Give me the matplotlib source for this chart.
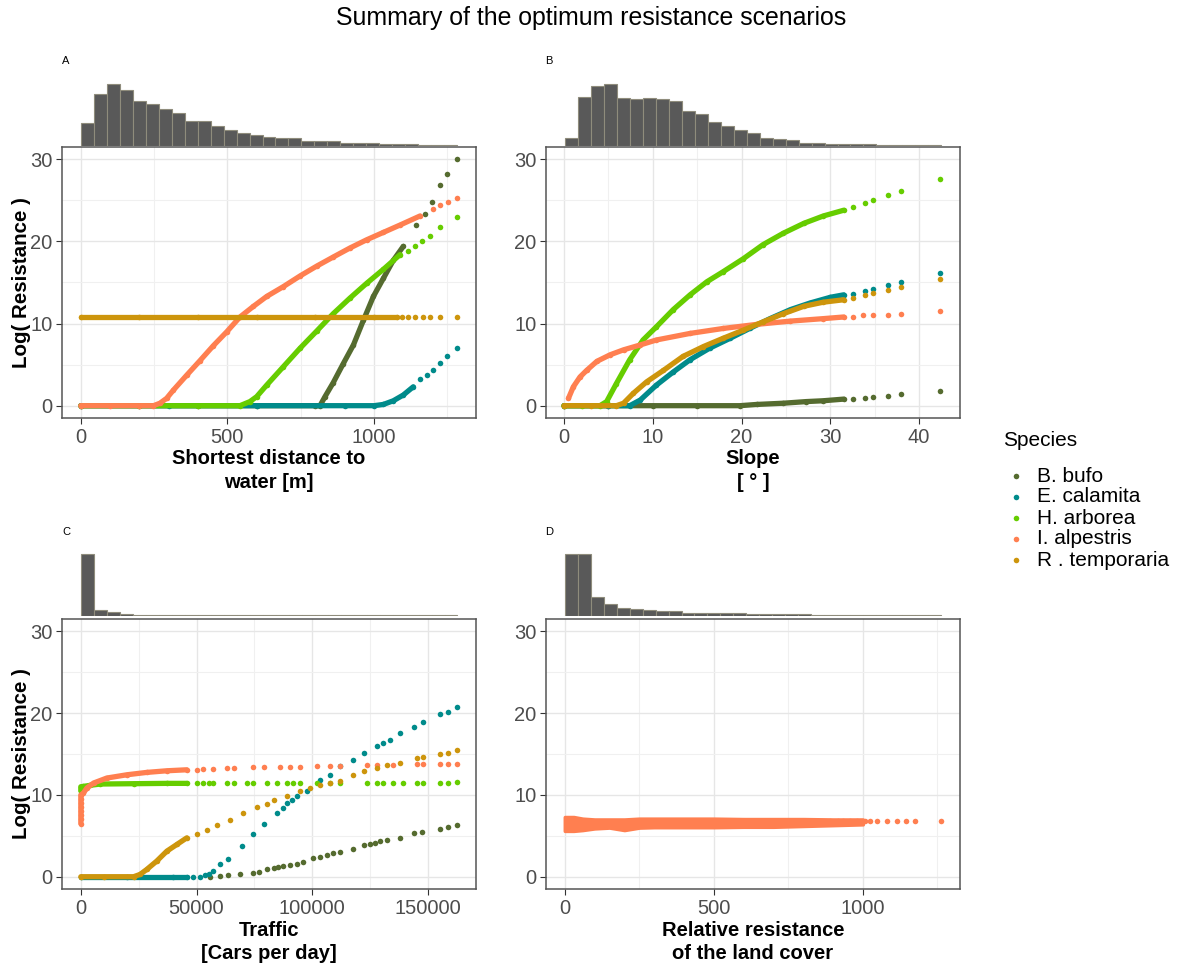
import numpy as np
import matplotlib.pyplot as plt
from matplotlib.lines import Line2D

plt.rcParams['font.family'] = ['Liberation Sans', 'DejaVu Sans']

species = ["B. bufo", "E. calamita", "H. arborea", "I. alpestris", "R . temporaria"]
colors = ["#556B2F", "#008B8B", "#66CD00", "#FF7F50", "#CD950C"]

# ---- panel A: shortest distance to water
a_bufo_x = [0, 200, 400, 600, 800, 816, 833, 861, 895, 930, 964, 998, 1032, 1066, 1100,
            1145, 1174, 1197, 1225, 1250, 1284]
a_bufo_y = [0, 0, 0, 0, 0, 0, 1.1, 2.8, 5.1, 7.4, 10.4, 13.3, 15.5, 17.7, 19.4,
            22.0, 23.3, 24.85, 26.9, 28.2, 30.0]
a_cala_x = [0, 300, 600, 900, 1000, 1032, 1066, 1100, 1134, 1157, 1180, 1202, 1225, 1250, 1284]
a_cala_y = [0, 0, 0, 0, 0, 0.15, 0.6, 1.3, 2.3, 3.3, 3.7, 4.3, 5.2, 6.0, 7.0]
a_arbo_x = [0, 200, 400, 543, 577, 600, 634, 691, 748, 805, 861, 918, 975, 1032, 1089,
            1117, 1140, 1163, 1191, 1225, 1284]
a_arbo_y = [0, 0, 0, 0, 0.5, 1.1, 2.5, 4.75, 7.0, 9.1, 11.2, 13.1, 14.9, 16.6, 18.4,
            18.8, 19.4, 20.0, 20.7, 21.7, 23.0]
a_alpe_x = [0, 100, 200, 248, 270, 293, 316, 361, 407, 452, 498, 543, 589, 634, 691, 748,
            805, 861, 918, 975, 1032, 1089, 1157, 1202, 1225, 1253, 1284]
a_alpe_y = [0, 0, 0, 0, 0.3, 0.9, 1.9, 3.7, 5.5, 7.3, 9.0, 10.8, 12.1, 13.3, 14.5, 15.8,
            17.0, 18.1, 19.2, 20.2, 21.1, 22.0, 23.1, 24.0, 24.4, 24.8, 25.3]
a_temp_x = [0, 200, 400, 600, 800, 1000, 1077, 1094, 1117, 1140, 1168, 1191, 1225, 1284]
a_temp_y = [10.84] * 14
a_dense = [1110, 1134, 1100, 1157, 1080]
a_hist = [67, 157, 187, 169, 135, 125, 110, 97, 74, 74, 59, 48, 38, 33, 27, 23, 23,
          13, 13, 13, 8, 8, 8, 5, 5, 5, 2, 2, 2]

# ---- panel B: slope
b_bufo_x = [0, 5, 10, 15, 19.8, 21.7, 24.7, 27.3, 29.2, 31.5, 32.6, 33.9, 34.8, 36.5, 37.9, 42.4]
b_bufo_y = [0, 0, 0, 0, 0, 0.15, 0.3, 0.5, 0.6, 0.8, 0.8, 0.9, 1.0, 1.2, 1.4, 1.8]
b_cala_x = [0, 5, 7.4, 8.6, 10.4, 12.3, 14.2, 16.4, 18.7, 20.9, 23.2, 25.5, 27.7, 30.0, 31.5,
            32.6, 33.9, 34.8, 36.5, 37.9, 42.4]
b_cala_y = [0, 0, 0, 0.7, 2.5, 4.1, 5.6, 7.0, 8.2, 9.4, 10.6, 11.7, 12.5, 13.2, 13.5,
            13.6, 14.0, 14.2, 14.7, 15.1, 16.1]
b_arbo_x = [0, 2, 4.05, 4.8, 5.9, 7.4, 8.9, 10.4, 12.3, 14.2, 16.1, 17.9, 20.2, 22.4, 24.7,
            27.0, 29.2, 31.5, 32.6, 33.9, 34.8, 36.5, 37.9, 42.4]
b_arbo_y = [0, 0, 0, 0.5, 2.7, 5.6, 8.0, 9.6, 11.7, 13.5, 15.1, 16.3, 17.9, 19.6, 21.0,
            22.2, 23.1, 23.8, 24.2, 24.7, 25.05, 25.7, 26.2, 27.6]
b_alpe_x = [0.5, 1.05, 1.8, 2.55, 3.7, 5.2, 6.7, 8.6, 10.4, 14.2, 17.9, 21.7, 25.5, 29.2, 31.5,
            32.6, 33.7, 34.8, 36.5, 37.9, 42.4]
b_alpe_y = [0.9, 2.3, 3.5, 4.3, 5.4, 6.2, 6.8, 7.4, 8.0, 8.8, 9.4, 9.9, 10.3, 10.6, 10.8,
            10.8, 11.0, 11.0, 11.1, 11.2, 11.5]
b_temp_x = [0, 3, 5.9, 6.7, 7.8, 9.3, 11.2, 13.4, 15.7, 17.9, 20.2, 22.4, 24.7, 27.0, 29.2,
            31.5, 32.6, 33.9, 34.8, 36.5, 37.9, 42.4]
b_temp_y = [0, 0, 0, 0.3, 1.5, 2.9, 4.3, 6.0, 7.2, 8.2, 9.2, 10.2, 11.2, 12.1, 12.6,
            12.9, 13.1, 13.5, 13.7, 14.1, 14.5, 15.4]
b_dense = [31.6, 31.6, 31.6, 31.6, 31.6]
b_hist = [24, 147, 179, 187, 144, 140, 144, 140, 136, 103, 96, 71, 60, 46, 38, 24, 20,
          16, 9, 9, 5, 5, 5, 5, 2, 2, 2, 2, 2]

# ---- panel C: traffic
c_bufo_x = [55900, 60200, 63800, 68900, 74600, 76800, 80400, 83300, 85400, 87600, 90500,
            93300, 96200, 100500, 103400, 106300, 109200, 112100, 117800, 122200, 125000,
            127200, 129400, 132200, 138000, 143800, 147400, 155300, 158900, 162800]
c_bufo_y = [0, 0.08, 0.16, 0.28, 0.49, 0.61, 0.89, 1.10, 1.18, 1.30, 1.42, 1.58, 1.83,
            2.23, 2.40, 2.64, 2.84, 3.05, 3.45, 3.86, 4.02, 4.14, 4.34, 4.43, 4.75, 5.36,
            5.48, 5.89, 6.05, 6.29]
c_cala_x = [0, 20000, 40000, 45800, 48700, 51600, 53700, 55200, 57300, 60200, 63800, 69600,
            74600, 79000, 84700, 87600, 89000, 91200, 93300, 97700, 103400, 107700, 112100,
            117800, 122200, 127900, 130800, 133700, 138000, 143800, 148100, 155300, 158900,
            162800]
c_cala_y = [0, 0, 0, 0, 0, 0, 0.16, 0.28, 0.69, 1.50, 2.11, 3.74, 5.24, 6.46, 7.80, 8.42,
            9.01, 9.42, 9.82, 10.43, 11.85, 12.46, 13.48, 14.29, 15.10, 16.00, 16.32, 16.73,
            17.54, 18.35, 18.88, 19.89, 20.18, 20.71]
c_arbo_x = [0, 0, 1150, 4000, 8400, 22800, 37200, 45800, 50100, 53000, 55200, 57300, 63100,
            66000, 71700, 74600, 80400, 84700, 89000, 91900, 94800, 102000, 107700, 112100,
            123600, 127900, 130800, 135100, 139400, 145200, 148100, 155300, 158900, 162800]
c_arbo_y = [10.5, 11.0, 11.04, 11.17, 11.33, 11.37, 11.41, 11.41] + [11.45] * 25 + [11.57]
c_alpe_x = [0, 0, 0, 0, 0, 0, 0, 0, 1150, 2600, 5500, 11200, 19900, 28500, 37200, 45800,
            50100, 53000, 57300, 63100, 66000, 74600, 79000, 86100, 90500, 94800, 102000,
            107700, 112100, 123600, 127900, 135100, 145200, 148100, 155300, 158900, 162800]
c_alpe_y = [6.5, 7.0, 7.5, 8.0, 8.5, 9.0, 9.5, 10.0, 10.23, 10.84, 11.45, 12.06, 12.46,
            12.75, 12.95, 13.07, 13.07, 13.15, 13.2, 13.28, 13.28, 13.36, 13.36, 13.4, 13.44,
            13.44, 13.48, 13.48, 13.48, 13.6, 13.6, 13.68, 13.76, 13.76, 13.76, 13.76, 13.76]
c_temp_x = [0, 10000, 22800, 25600, 28500, 32800, 37200, 41500, 45800, 50100, 54500, 58800,
            64500, 70300, 76000, 80400, 83300, 89000, 94800, 99100, 103400, 107700, 112100,
            117800, 122200, 127900, 132200, 138000, 145200, 148100, 155300, 158900, 162800]
c_temp_y = [0, 0, 0, 0.28, 0.89, 1.91, 3.13, 3.94, 4.75, 5.24, 5.77, 6.37, 6.98, 7.80,
            8.49, 8.89, 9.42, 9.91, 10.43, 10.84, 11.17, 11.45, 11.73, 12.46, 12.95, 13.28,
            13.68, 13.89, 14.49, 14.62, 14.98, 15.18, 15.43]
c_dense = [46000, 46000, 46000, 46000, 46000]
c_hist = [184, 17, 10, 5] + [1.5] * 25

# ---- panel D: relative resistance of the land cover (I. alpestris only)
d_band_x = [0, 30, 60, 100, 150, 200, 250, 300, 400, 500, 600, 700, 800, 900, 1000]
d_band_lo = [5.6, 5.6, 5.7, 5.9, 6.0, 5.7, 6.0, 6.05, 6.05, 6.05, 6.1, 6.1, 6.2, 6.3, 6.4]
d_band_hi = [7.3, 7.3, 7.1, 7.0, 7.0, 7.0, 7.1, 7.1, 7.1, 7.1, 7.05, 7.05, 7.05, 7.0, 7.0]
d_tail_x = [890, 918, 935, 957, 980, 1008, 1025, 1047, 1081, 1114, 1145, 1176, 1262]
d_tail_y = [6.8, 6.8, 6.8, 6.8, 6.82, 6.82, 6.82, 6.82, 6.84, 6.84, 6.85, 6.85, 6.86]
d_hist = [184, 184, 56, 34, 24, 19, 16, 13, 13, 8, 8, 8, 8, 8, 6, 6, 6, 6, 6,
          2, 2, 2, 2, 2, 2, 2, 2, 2, 2]

W, H = 1180, 964
fig = plt.figure(figsize=(W / 100, H / 100), dpi=100)


def box(l, t, r, b):
    return [l / W, 1 - b / H, (r - l) / W, (b - t) / H]


def panel(rect, hrect, xlim, major, minor, xlabel, ylabel, hist, hrange, letter, lpos):
    ax = fig.add_axes(rect)
    ax.set_xlim(xlim)
    ax.set_ylim(-1.5, 31.5)
    ax.set_xticks(major)
    ax.set_xticks(minor, minor=True)
    ax.set_yticks([0, 10, 20, 30])
    ax.set_yticks([5, 15, 25], minor=True)
    ax.grid(which='major', color='#e6e6e6', lw=1.0)
    ax.grid(which='minor', color='#f0f0f0', lw=0.8)
    ax.set_axisbelow(True)
    ax.tick_params(which='major', labelsize=14.5, labelcolor='#4d4d4d', color='#333333',
                   length=4, width=0.8, pad=3)
    ax.tick_params(which='minor', length=0)
    for s in ax.spines.values():
        s.set_color('#555555')
        s.set_linewidth(1.1)
    ax.set_xlabel(xlabel, fontsize=14.5, fontweight='bold', linespacing=1.3, labelpad=2)
    if ylabel:
        ax.set_ylabel(ylabel, fontsize=14.8, fontweight='bold', va='center')
        ax.yaxis.set_label_coords(-0.097, 0.5)

    hx = fig.add_axes(hrect)
    edges = np.linspace(hrange[0], hrange[1], len(hist) + 1)
    hx.bar(edges[:-1], hist, width=np.diff(edges), align='edge', color='#595959',
           edgecolor='#8f8c7c', lw=0.8)
    hx.set_xlim(xlim)
    hx.set_ylim(0, max(hist) * 1.05)
    hx.axis('off')
    fig.text(lpos[0] / W, 1 - lpos[1] / H, letter, fontsize=8, ha='left', va='center')
    return ax


def draw(ax, xs, ys, dense):
    for x, y, c, lim in zip(xs, ys, colors, dense):
        x = np.asarray(x, float)
        y = np.asarray(y, float)
        m = x <= lim
        ax.plot(x[m], y[m], color=c, lw=3.8, solid_capstyle='round', solid_joinstyle='round')
        ax.plot(x, y, 'o', color=c, ms=4.0, mew=0)


axA = panel(box(62, 147, 476, 418), box(62, 80.5, 476, 145.7), (-64, 1348),
            [0, 500, 1000], [250, 750, 1250], "Shortest distance to\nwater [m]",
            "Log( Resistance )", a_hist, (0, 1284), "A", (62, 61))
draw(axA, [a_bufo_x, a_cala_x, a_arbo_x, a_alpe_x, a_temp_x],
     [a_bufo_y, a_cala_y, a_arbo_y, a_alpe_y, a_temp_y], a_dense)

axB = panel(box(546, 147, 960, 418), box(546, 80.5, 960, 145.7), (-2.03, 44.6),
            [0, 10, 20, 30, 40], [5, 15, 25, 35], "Slope\n[ ° ]",
            None, b_hist, (0.1, 42.5), "B", (545, 61))
draw(axB, [b_bufo_x, b_cala_x, b_arbo_x, b_alpe_x, b_temp_x],
     [b_bufo_y, b_cala_y, b_arbo_y, b_alpe_y, b_temp_y], b_dense)

axC = panel(box(62, 619, 476, 889), box(62, 550.5, 476, 615.7), (-8132, 170800),
            [0, 50000, 100000, 150000], [25000, 75000, 125000], "Traffic\n[Cars per day]",
            "Log( Resistance )", c_hist, (0, 162800), "C", (62, 532))
draw(axC, [c_bufo_x, c_cala_x, c_arbo_x, c_alpe_x, c_temp_x],
     [c_bufo_y, c_cala_y, c_arbo_y, c_alpe_y, c_temp_y], c_dense)

axD = panel(box(546, 619, 960, 889), box(546, 550.5, 960, 615.7), (-63, 1326),
            [0, 500, 1000], [250, 750, 1250], "Relative resistance\nof the land cover",
            None, d_hist, (0, 1262), "D", (545, 532))
axD.fill_between(d_band_x, d_band_lo, d_band_hi, color=colors[3], lw=2.5, edgecolor=colors[3])
axD.plot(d_tail_x, d_tail_y, 'o', color=colors[3], ms=4.0, mew=0)

fig.text(591 / W, 1 - 18 / H, "Summary of the optimum resistance scenarios",
         fontsize=17.9, ha='center', va='center')

# legend
fig.text(1003 / W, 1 - 441 / H, "Species", fontsize=15, ha='left', va='center')
for i, (name, c) in enumerate(zip(species, colors)):
    yy = 1 - (476 + 21 * i) / H
    fig.add_artist(Line2D([1016 / W], [yy], marker='o', color=c, ms=4.0, mew=0, lw=0))
    fig.text(1037 / W, yy, name, fontsize=15, ha='left', va='center')

fig.savefig("out.png", dpi=100)
